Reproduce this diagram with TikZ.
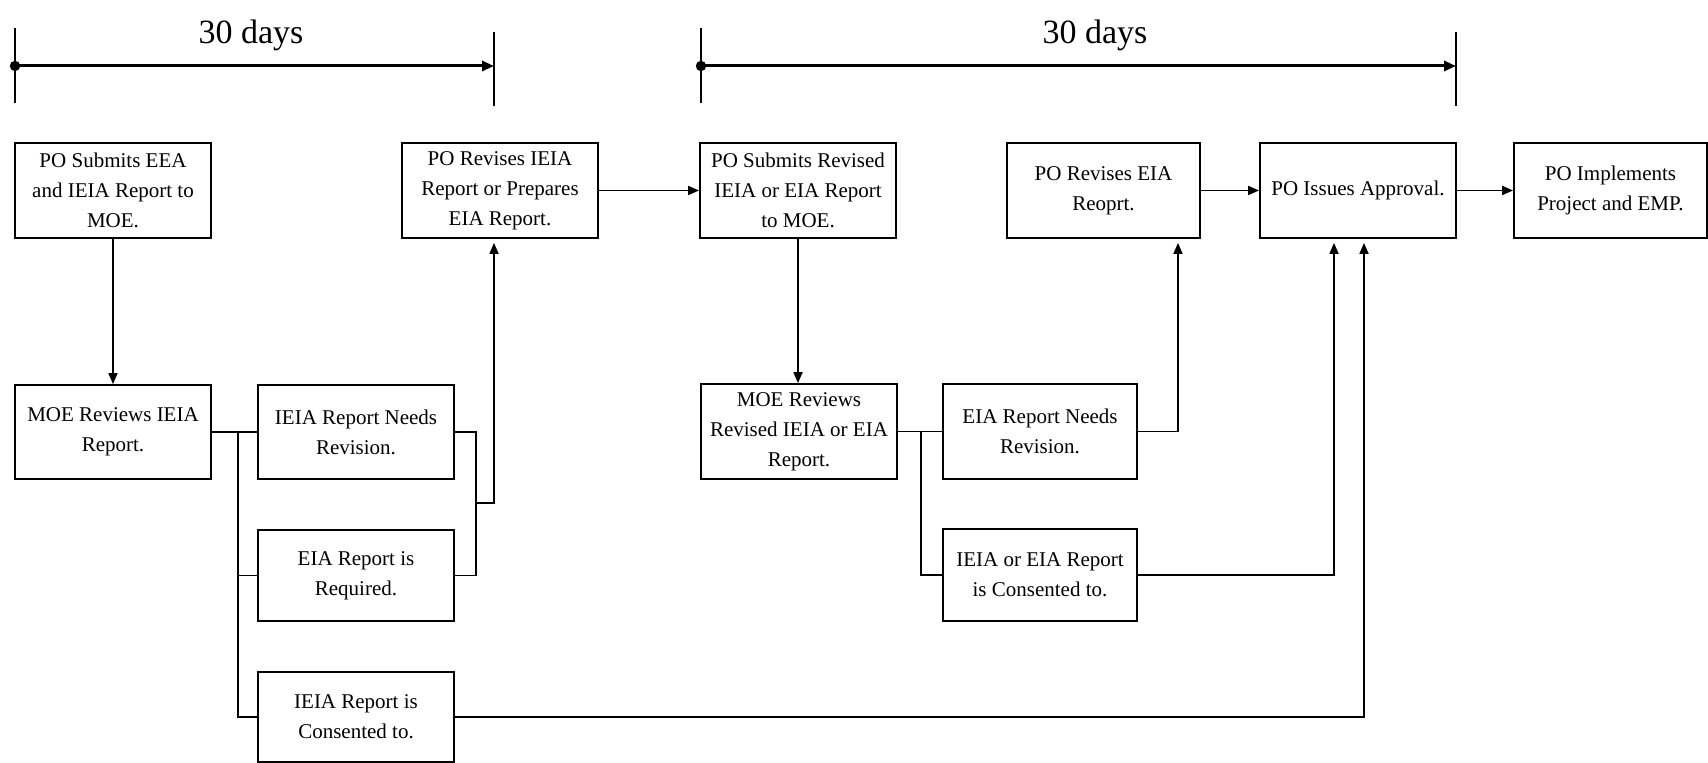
\documentclass[tikz,border=0pt]{standalone}
\usepackage{fontspec}
\setmainfont{Liberation Serif}
\usetikzlibrary{arrows.meta}
\begin{document}
\begin{tikzpicture}[x=0.5pt,y=-0.5pt,
  box/.style={draw, line width=0.9pt, inner sep=0pt, minimum width=98pt,
    minimum height=47.5pt, align=center, font=\fontsize{10.5}{15}\selectfont},
  link/.style={line width=0.85pt},
  flow/.style={link, -{Triangle[length=5.5pt,width=4.5pt]}},
  upflow/.style={flow, shorten >=2pt},
  tickmark/.style={line width=0.9pt},
  span/.style={line width=1.5pt, -{Triangle[length=6pt,width=5pt]}},
  lbl/.style={font=\fontsize{17}{20}\selectfont, anchor=base}]
\useasboundingbox (0,0) rectangle (1708,763);

% time spans
\coordinate (t1a) at (15,66);
\coordinate (t1b) at (494,66);
\coordinate (t2a) at (701,66);
\coordinate (t2b) at (1456,66);
\draw[tickmark] (15,28) -- (15,103);
\draw[tickmark] (494,32) -- (494,106);
\draw[tickmark] (701,28) -- (701,103);
\draw[tickmark] (1456,32) -- (1456,106);
\draw[span] (t1a) -- (t1b);
\draw[span] (t2a) -- (t2b);
\fill (t1a) circle (2.6pt);
\fill (t2a) circle (2.6pt);
\node[lbl] (span1) at (251,44) {30 days};
\node[lbl] (span2) at (1095,44) {30 days};

% top row
\node[box] (A) at (113,190.5) {PO Submits EEA\\and IEIA Report to\\MOE.};
\node[box] (B) at (500,190.5) {PO Revises IEIA\\Report or Prepares\\EIA Report.};
\node[box] (C) at (798,190.5) {PO Submits Revised\\IEIA or EIA Report\\to MOE.};
\node[box, minimum width=96.5pt] (D) at (1103.5,190.5) {PO Revises EIA\\Reoprt.};
\node[box] (E) at (1358,190.5) {PO Issues Approval.};
\node[box, minimum width=96.5pt] (F) at (1610.5,190.5) {PO Implements\\Project and EMP.};

% review stage 1
\node[box, minimum height=47pt] (G) at (113,432) {MOE Reviews IEIA\\Report.};
\node[box, minimum height=47pt] (H) at (356,432) {IEIA Report Needs\\Revision.};
\node[box, minimum height=45.5pt] (I) at (356,575.5) {EIA Report is\\Required.};
\node[box, minimum height=45pt] (J) at (356,717) {IEIA Report is\\Consented to.};

% review stage 2
\node[box, minimum height=47.5pt] (K) at (799,431.5) {MOE Reviews\\Revised IEIA or EIA\\Report.};
\node[box, minimum width=97pt, minimum height=47.5pt] (L) at (1040,431.5) {EIA Report Needs\\Revision.};
\node[box, minimum width=97pt, minimum height=46pt] (M) at (1040,575) {IEIA or EIA Report\\is Consented to.};

% connectors, stage 1
\draw[flow] (A) -- (G);
\draw[link] (G.east) -- (H.west);
\coordinate (bus1) at (238,432);
\draw[link] (bus1) |- (I.west);
\draw[link] (bus1) |- (J.west);
\coordinate (rv1) at (476,432);
\draw[link] (H.east) -- (rv1) |- (I.east);
\coordinate (rj1) at (476,503);
\coordinate (rj2) at (494,503);
\draw[upflow] (rj1) -- (rj2) -- (rj2 |- B.south);
\draw[flow] (B.east) -- (C.west);

% connectors, stage 2
\draw[flow] (C.south) -- (C.south |- K.north);
\draw[link] (K.east) -- (L.west);
\coordinate (bus2) at (921,431.5);
\draw[link] (bus2) |- (M.west);
\coordinate (dx) at (1178,0);
\draw[upflow] (L.east) -| (D.south -| dx);
\coordinate (ex1) at (1334,0);
\coordinate (ex2) at (1364,0);
\draw[upflow] (M.east) -| (E.south -| ex1);
\draw[upflow] (J.east) -| (E.south -| ex2);
\draw[flow] (D.east) -- (E.west);
\draw[flow] (E.east) -- (F.west);
\end{tikzpicture}
\end{document}
